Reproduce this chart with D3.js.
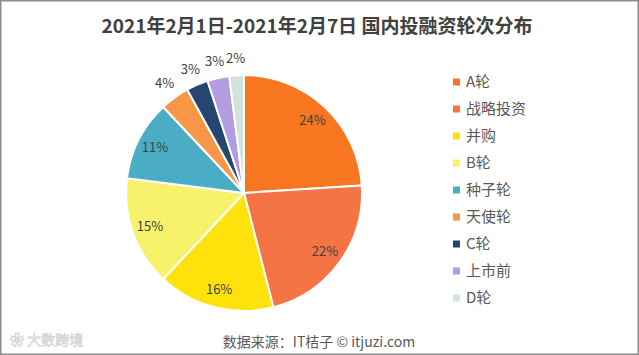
<!DOCTYPE html>
<html><head><meta charset="utf-8">
<script src="https://cdn.jsdelivr.net/npm/d3@7"></script>
<style>body{margin:0;background:#fff}svg{display:block}</style>
</head><body>
<script>
const categories = ["A轮","战略投资","并购","B轮","种子轮","天使轮","C轮","上市前","D轮"];
const values = [24,22,16,15,11,4,3,3,2];
const colors = ["#F8761F","#F47446","#FFE20C","#F7F26C","#4BACC6","#F79646","#264672","#B29DE0","#D4E2DC"];
const title = "2021年2月1日-2021年2月7日 国内投融资轮次分布";
const source = "数据来源：IT桔子 © itjuzi.com";

const W=639,H=355;
const svg=d3.select("body").append("svg").attr("width",W).attr("height",H);
svg.append("rect").attr("x",0.75).attr("y",0.75).attr("width",W-1.5).attr("height",H-1.5)
  .attr("fill","#fff").attr("stroke","#8c8c8c").attr("stroke-width",1.5);
const font="'Microsoft YaHei','Noto Sans CJK SC','Noto Sans',sans-serif";
svg.append("text").attr("x",317).attr("y",33).attr("text-anchor","middle")
  .attr("font-family",font).attr("font-weight","bold").attr("font-size",19).attr("fill","#404040").text(title);

const data=categories.map((c,i)=>({c,v:values[i],col:colors[i]}));
const total=d3.sum(values);
const cx=244,cy=193,R=118;
const pie=d3.pie().value(d=>d.v).sort(null);
const arcs=pie(data);
const g=svg.append("g").attr("transform",`translate(${cx},${cy})`);
const arc=d3.arc().innerRadius(0).outerRadius(R);
g.selectAll("path").data(arcs).join("path").attr("d",arc)
  .attr("fill",d=>d.data.col).attr("stroke","#fff").attr("stroke-width",2).attr("stroke-linejoin","round");
const inArc=d3.arc().innerRadius(100).outerRadius(100);
const outArc=d3.arc().innerRadius(135).outerRadius(135);
g.selectAll("text.lbl").data(arcs).join("text").attr("class","lbl")
  .attr("transform",d=>`translate(${(d.data.v/total>=0.05?inArc:outArc).centroid(d)})`)
  .attr("text-anchor","middle").attr("dy","0.35em")
  .attr("font-family",font).attr("font-size",13).attr("fill","#404040")
  .text(d=>Math.round(d.data.v/total*100)+"%");

const y=d3.scalePoint().domain(categories).range([82,298]);
const lg=svg.append("g");
lg.selectAll("rect").data(data).join("rect").attr("x",453).attr("y",d=>y(d.c)-3.5)
  .attr("width",7).attr("height",7).attr("fill",d=>d.col);
lg.selectAll("text").data(data).join("text").attr("x",466).attr("y",d=>y(d.c)).attr("dy","0.36em")
  .attr("font-family",font).attr("font-size",15).attr("fill","#595959").text(d=>d.c);

svg.append("text").attr("x",319).attr("y",347).attr("text-anchor","middle")
  .attr("font-family",font).attr("font-size",14).attr("fill","#595959").text(source);
svg.append("text").attr("x",10).attr("y",345)
  .attr("font-family",font).attr("font-size",14).attr("fill","none").attr("stroke","#d6d6d6").attr("stroke-width",0.8).text("❀ 大数跨境");
</script>
</body></html>
